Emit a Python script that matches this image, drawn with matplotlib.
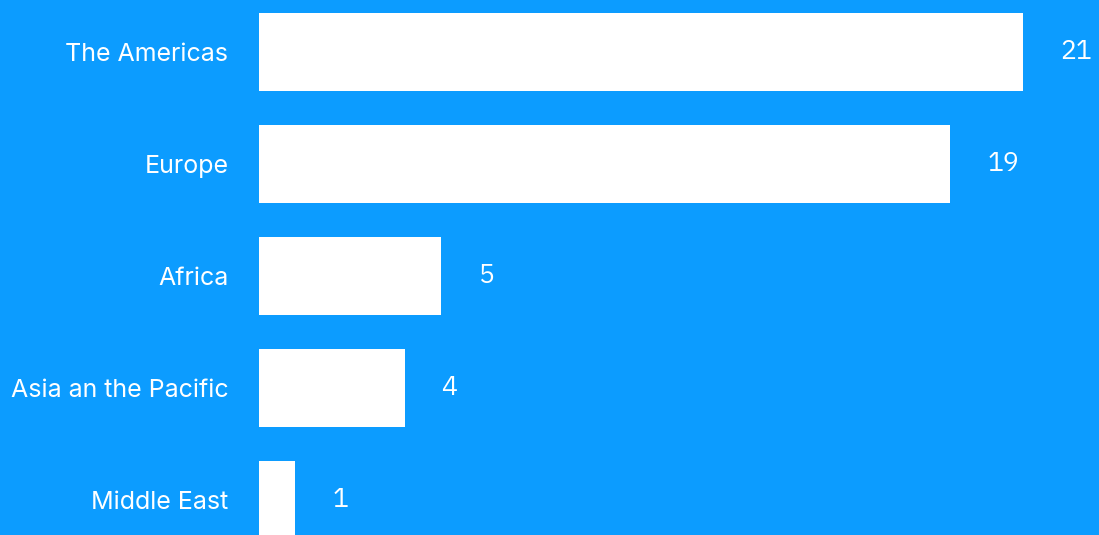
import matplotlib
matplotlib.use("Agg")
from matplotlib import pyplot as plt
from matplotlib import font_manager

regiones = ["The Americas", "Europe", "Africa", "Asia an the Pacific", "Middle East"]
valores = [21, 19, 5, 4, 1]

fondo = "#0C9CFF"

fuente_num = font_manager.FontProperties(family=["IBM Plex Mono", "DejaVu Sans Mono"], size=19)

fig = plt.figure(figsize=(10.99, 5.35), dpi=100, facecolor=fondo)
ax = fig.add_axes([259 / 1099, 0, 1 - 259 / 1099, 1])
ax.set_facecolor(fondo)

pos = list(range(len(regiones)))
ax.barh(pos, valores, height=0.7, color="white")

# escala: la barra de 21 termina cerca del borde derecho
ax.set_xlim(0, 23.09)
ax.set_ylim(4.3125, -0.464)

ax.set_yticks(pos)
ax.set_yticklabels(regiones, fontsize=18, family="Inter", color="white")
ax.tick_params(axis="y", length=0, pad=22)
ax.set_xticks([])
for s in ax.spines.values():
    s.set_visible(False)

# etiquetas de valor a la derecha de cada barra
for p, v in zip(pos, valores):
    ax.annotate(str(v), xy=(v, p), xytext=(37, 0), textcoords="offset pixels",
                ha="left", va="center", fontproperties=fuente_num,
                color="white")

fig.savefig("out.png", dpi=100, facecolor=fondo)
